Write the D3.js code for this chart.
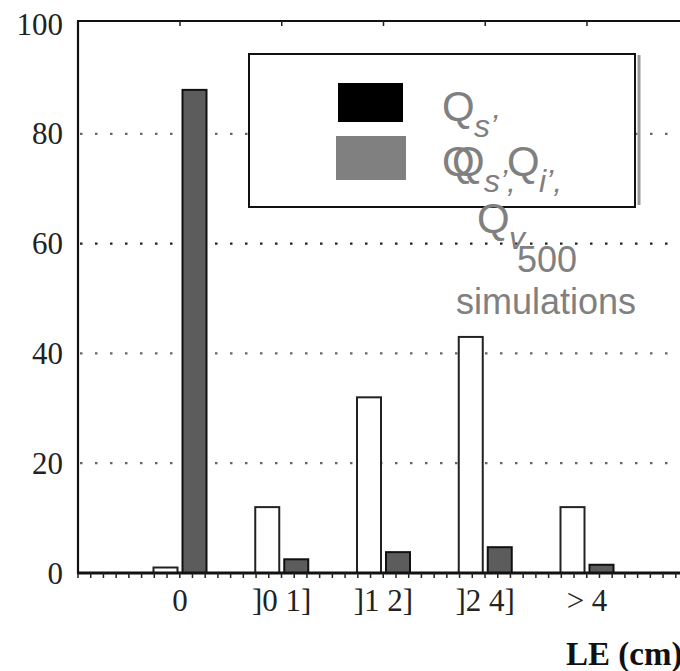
<!DOCTYPE html>
<html>
<head>
<meta charset="utf-8">
<script src="https://cdn.jsdelivr.net/npm/d3@7"></script>
<style>
  html, body { margin: 0; padding: 0; background: #fff; }
  svg { display: block; }
</style>
</head>
<body>
<svg id="chart" width="680" height="671"></svg>
<script>
// LE classes and the percentage of simulations falling in each
const categories = ["0", "]0 1]", "]1 2]", "]2 4]", "> 4"];
const seriesNames = ["open", "filled"];
const openValues = [1, 12, 32, 43, 12];
const filledValues = [88, 2.5, 3.8, 4.7, 1.5];
const yTicks = [0, 20, 40, 60, 80, 100];
const gridValues = [20, 40, 60, 80];

(function draw() {
  const svg = d3.select("#chart");
  const serif = "'Liberation Serif', 'DejaVu Serif', serif";
  const sans = "'Liberation Sans', Arial, sans-serif";

  const plotLeft = 78, plotRight = 680, plotTop = 21, plotBottom = 573;

  const y = d3.scaleLinear().domain([0, 100]).range([plotBottom, 24]);
  const x = d3.scalePoint().domain(categories).range([180, 587]);
  const step = x.step();
  const inner = d3.scaleBand().domain(seriesNames).range([-26.5, 26.5]).paddingInner(5 / 29);

  // dotted horizontal grid
  svg.append("g").selectAll("line").data(gridValues).join("line")
    .attr("x1", plotLeft + 2).attr("x2", plotRight)
    .attr("y1", d => y(d)).attr("y2", d => y(d))
    .attr("stroke", d => d === 60 ? "#222" : "#666")
    .attr("stroke-width", 2.2)
    .attr("stroke-dasharray", "2.5,12.5");

  // bars
  const rows = categories.map((c, i) => ({ c, open: openValues[i], filled: filledValues[i] }));
  const g = svg.append("g");
  g.selectAll("rect.open").data(rows).join("rect")
    .attr("class", "open")
    .attr("x", d => x(d.c) + inner("open"))
    .attr("width", inner.bandwidth())
    .attr("y", d => y(d.open))
    .attr("height", d => y(0) - y(d.open))
    .attr("fill", "#fff").attr("stroke", "#222").attr("stroke-width", 2);
  g.selectAll("rect.filled").data(rows).join("rect")
    .attr("class", "filled")
    .attr("x", d => x(d.c) + inner("filled"))
    .attr("width", inner.bandwidth())
    .attr("y", d => y(d.filled))
    .attr("height", d => y(0) - y(d.filled))
    .attr("fill", "#5c5c5c").attr("stroke", "#111").attr("stroke-width", 2);

  // frame: left axis, top line, bottom axis
  svg.append("line").attr("x1", plotLeft).attr("x2", plotLeft).attr("y1", plotTop).attr("y2", plotBottom + 1)
    .attr("stroke", "#111").attr("stroke-width", 2.2);
  svg.append("line").attr("x1", plotLeft - 1).attr("x2", plotRight).attr("y1", plotTop).attr("y2", plotTop)
    .attr("stroke", "#111").attr("stroke-width", 2.2);
  svg.append("line").attr("x1", plotLeft - 1).attr("x2", plotRight).attr("y1", plotBottom).attr("y2", plotBottom)
    .attr("stroke", "#111").attr("stroke-width", 3);

  // minor ticks under the bottom axis
  const minor = d3.range(plotLeft, plotRight, step / 8);
  svg.append("g").selectAll("line").data(minor).join("line")
    .attr("x1", d => d).attr("x2", d => d)
    .attr("y1", plotBottom).attr("y2", plotBottom + 5)
    .attr("stroke", "#222").attr("stroke-width", 1.5);
  // ticks hanging from the top line at each class
  svg.append("g").selectAll("line").data(categories).join("line")
    .attr("x1", d => x(d)).attr("x2", d => x(d))
    .attr("y1", plotTop).attr("y2", plotTop + 5)
    .attr("stroke", "#222").attr("stroke-width", 1.5);

  // y tick labels
  svg.append("g").selectAll("text").data(yTicks).join("text")
    .attr("x", 63).attr("y", d => y(d)).attr("dy", "0.34em")
    .attr("text-anchor", "end")
    .attr("font-family", serif).attr("font-size", 31).attr("fill", "#222")
    .text(d => d);

  // x tick labels
  svg.append("g").selectAll("text").data(categories).join("text")
    .attr("x", d => x(d)).attr("y", 611)
    .attr("text-anchor", "middle")
    .attr("font-family", serif).attr("font-size", 31).attr("fill", "#222")
    .style("white-space", "pre")
    .text(d => d);

  // axis title
  svg.append("text").attr("x", 566).attr("y", 665)
    .attr("font-family", serif).attr("font-size", 33).attr("font-weight", "bold").attr("fill", "#111")
    .text("LE (cm)");

  // legend box
  svg.append("line").attr("x1", 639).attr("x2", 639).attr("y1", 55).attr("y2", 205)
    .attr("stroke", "#999").attr("stroke-width", 3);
  svg.append("rect").attr("x", 249).attr("y", 54).attr("width", 386).attr("height", 153)
    .attr("fill", "#fff").attr("stroke", "#111").attr("stroke-width", 2);
  svg.append("rect").attr("x", 338).attr("y", 83).attr("width", 65).attr("height", 39).attr("fill", "#000");
  svg.append("rect").attr("x", 336).attr("y", 136).attr("width", 70).attr("height", 44).attr("fill", "#808080");

  // legend labels
  const legendText = svg.append("g").attr("fill", "#808080").attr("font-family", sans);
  function sym(xq, yq, sub) {
    legendText.append("text").attr("x", xq).attr("y", yq)
      .attr("font-size", 42).text("Q");
    legendText.append("text").attr("x", xq + 32).attr("y", yq + 16)
      .attr("font-size", 32).attr("font-style", "italic").text(sub);
  }
  sym(442, 121, "s\u2019");
  legendText.append("text").attr("x", 442).attr("y", 176)
    .attr("font-size", 42).text("Q");
  sym(452, 176, "s\u2019,");
  sym(507, 176, "i\u2019,");
  sym(477, 233, "v");
  legendText.append("text").attr("x", 517).attr("y", 272).attr("font-size", 36).text("500");
  legendText.append("text").attr("x", 456).attr("y", 314).attr("font-size", 36).text("simulations");
})();
</script>
</body>
</html>
